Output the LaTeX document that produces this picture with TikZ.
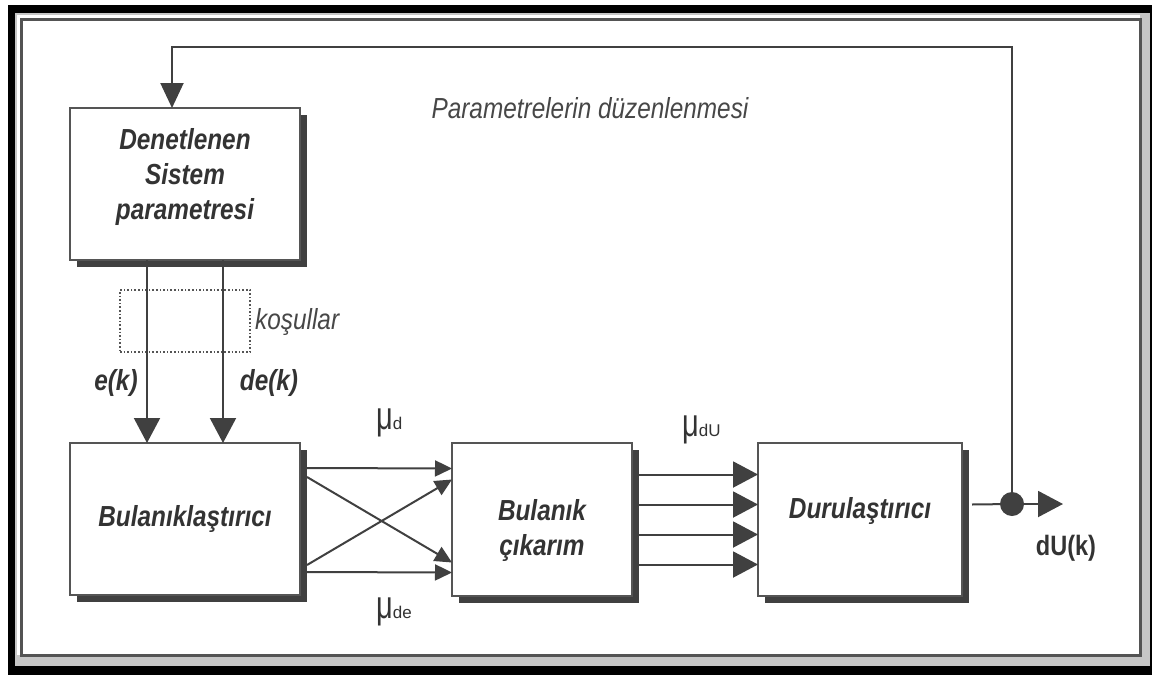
\documentclass[tikz,border=0pt]{standalone}
\usepackage{fontspec}
\setmainfont{Liberation Sans}[FakeStretch=0.84]
\newfontfamily\mufont{Liberation Sans}
\usetikzlibrary{arrows.meta,shadows}
\definecolor{ln}{HTML}{404040}
\definecolor{tx}{HTML}{333333}
\definecolor{bd}{HTML}{555555}
\newcommand{\mulab}[1]{{\mufont\scalebox{1}[1.35]{\fontsize{29}{29}\selectfont μ}\fontsize{17}{17}\selectfont #1}}
\begin{document}
\begin{tikzpicture}[x=1pt,y=-1pt,
  blk/.style={draw=bd, line width=2.5pt, fill=white, inner sep=0pt, outer sep=0pt,
    drop shadow={shadow xshift=7pt, shadow yshift=-7pt, fill=ln, opacity=1},
    font=\fontsize{29}{35}\selectfont\bfseries\itshape, text=tx, align=center},
  bigarr/.style={draw=ln, line width=2pt, -{Triangle[length=25pt,width=26pt]}},
  smallarr/.style={draw=ln, line width=2pt, -{Triangle[length=17pt,width=16pt]}},
  conn/.style={draw=ln, line width=2pt},
  lbl/.style={font=\fontsize{29}{29}\selectfont\bfseries\itshape, text=tx, inner sep=0pt},
  note/.style={font=\fontsize{29}{29}\selectfont\itshape, text=tx!90, inner sep=0pt},
  mu/.style={anchor=west, inner sep=0pt, text=tx},
]
\useasboundingbox (0,0) rectangle (1152,675);
% frame
\fill[white] (0,0) rectangle (1152,675);
\fill[black] (8,5) rectangle (1152,675);
\fill[gray!45] (15,13) rectangle (1150,666);
\fill[white] (17,15) rectangle (1140,655);
\draw[line width=3pt, draw=ln!90] (21.5,19.5) rectangle (1140,655);

% blocks
\node[blk, minimum width=230pt, minimum height=152pt] (sys) at (185,184)
  {\raisebox{7pt}[\height][\depth]{\begin{tabular}{@{}c@{}}Denetlenen\\Sistem\\parametresi\end{tabular}}};
\node[blk, minimum width=230pt, minimum height=152pt] (fuz) at (185,519) {Bulanıklaştırıcı};
\node[blk, minimum width=180pt, minimum height=153pt] (inf) at (542,519.5)
  {\raisebox{-11pt}[\height][\depth]{\begin{tabular}{@{}c@{}}Bulanık\\çıkarım\end{tabular}}};
\node[blk, minimum width=204pt, minimum height=153pt] (def) at (860,519.5)
  {\raisebox{9pt}[\height][\depth]{Durulaştırıcı}};

% conditions box
\node[draw=bd, dotted, line width=1.6pt, minimum width=130pt, minimum height=62pt, inner sep=0pt] (cond) at (185,321) {};
\node[note, anchor=west] (kos) at (255,322) {koşullar};

% sys -> fuz
\draw[bigarr] ([xshift=-38pt]sys.south) -- ([xshift=-38pt]fuz.north);
\draw[bigarr] ([xshift=38pt]sys.south) -- ([xshift=38pt]fuz.north);
\node[lbl] (ek) at (116,383) {e(k)};
\node[lbl] (dek) at (269,383) {de(k)};

% fuz -> inf
\draw[smallarr] ([xshift=7pt,yshift=51pt]fuz.east) -- ([yshift=51pt]inf.west);
\draw[smallarr] ([xshift=7pt,yshift=-53pt]fuz.east) -- ([yshift=-53pt]inf.west);
\draw[smallarr] ([xshift=7pt,yshift=42pt]fuz.east) -- ([yshift=-43pt]inf.west);
\draw[smallarr] ([xshift=7pt,yshift=-46pt]fuz.east) -- ([yshift=40pt]inf.west);
\node[mu] (mud) at (376,423) {\mulab{d}};
\node[mu] (mude) at (376,612) {\mulab{de}};

% inf -> def
\foreach \s in {45,15,-15,-45}{
  \draw[bigarr] ([xshift=7pt,yshift=\s pt]inf.east) -- ([yshift=\s pt]def.west);
}
\node[mu] (mudu) at (682,430) {\mulab{dU}};

% output and feedback
\coordinate (jn) at (1012,504);
\coordinate (out) at (1063,504);
\coordinate (fb) at (1012,47);
\draw[conn] ([xshift=10pt,yshift=15pt]def.east) -- (jn);
\draw[bigarr] (jn) -- (out);
\draw[conn, -{Triangle[length=25pt,width=23pt]}] (jn) -- (fb) -| ([xshift=-13pt]sys.north);
\fill[ln] (jn) circle (12pt);
\node[font=\fontsize{28}{28}\selectfont\bfseries, text=tx, inner sep=0pt] (du) at (1066,548) {dU(k)};
\node[note] (param) at (590,108) {Parametrelerin düzenlenmesi};
\end{tikzpicture}
\end{document}
